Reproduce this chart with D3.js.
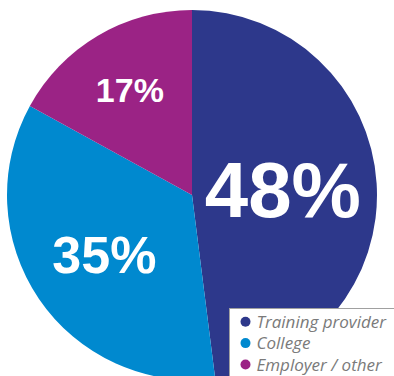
<!DOCTYPE html>
<html>
<head>
<meta charset="utf-8">
<script src="https://cdn.jsdelivr.net/npm/d3@7"></script>
<style>
  html, body { margin: 0; padding: 0; background: #fff; }
  svg { display: block; }
</style>
</head>
<body>
<svg id="chart" width="394" height="376"></svg>
<script>
// data
const categories = ["Training provider", "College", "Employer / other"];
const shares = [48, 35, 17];
const colours = ["#2d388b", "#0089cf", "#9b2385"];

const svg = d3.select("#chart");
const cx = 192, cy = 195, radius = 185;

const color = d3.scaleOrdinal().domain(categories).range(colours);

const pie = d3.pie().sort(null).value(d => d.value);
const arcs = pie(categories.map((c, i) => ({ name: c, value: shares[i] })));

const arc = d3.arc().innerRadius(0).outerRadius(radius);

const g = svg.append("g").attr("transform", `translate(${cx},${cy})`);

g.selectAll("path")
  .data(arcs)
  .enter()
  .append("path")
  .attr("d", arc)
  .attr("fill", d => color(d.data.name));

// labels: each slice gets its own radius & font size
const labelRadius = [91, 106, 122];
const labelSize = [78, 52, 34];

g.selectAll("text.pct")
  .data(arcs)
  .enter()
  .append("text")
  .attr("class", "pct")
  .attr("transform", (d, i) => {
    const a = d3.arc().innerRadius(labelRadius[i]).outerRadius(labelRadius[i]);
    const [x, y] = a.centroid(d);
    return `translate(${x},${y})`;
  })
  .attr("text-anchor", "middle")
  .attr("dy", "0.36em")
  .style("font-family", "'Liberation Sans', Arial, sans-serif")
  .style("font-weight", "bold")
  .style("font-size", (d, i) => labelSize[i] + "px")
  .style("fill", "#fff")
  .text(d => d.data.value + "%");

// legend box
const legend = svg.append("g").attr("transform", "translate(229.5,308.5)");
legend.append("rect")
  .attr("width", 200)
  .attr("height", 80)
  .attr("fill", "#fff")
  .attr("stroke", "#a0a0a0")
  .attr("stroke-width", 1);

const item = legend.selectAll("g.item")
  .data(categories)
  .enter()
  .append("g")
  .attr("class", "item")
  .attr("transform", (d, i) => `translate(0,${13.2 + i * 21.4})`);

item.append("circle")
  .attr("cx", 16)
  .attr("r", 5)
  .attr("fill", d => color(d));

item.append("text")
  .attr("x", 27)
  .attr("dy", "0.36em")
  .style("font-family", "'Open Sans', sans-serif")
  .style("font-style", "italic")
  .style("font-size", "17px")
  .style("fill", "#7a7a7a")
  .text(d => d);
</script>
</body>
</html>
